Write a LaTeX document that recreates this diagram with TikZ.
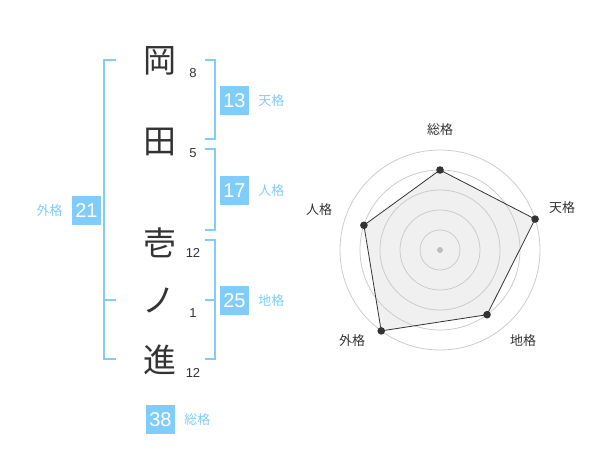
\documentclass[tikz,border=0pt]{standalone}
\usepackage{fontspec}
\setmainfont{Liberation Sans}
\newfontfamily\jpfont{Noto Sans CJK JP}
\usetikzlibrary{positioning}
\definecolor{kaku}{RGB}{128,204,250}
\definecolor{ink}{RGB}{51,51,51}
\definecolor{ring}{RGB}{204,204,204}
\definecolor{area}{RGB}{240,240,240}

\begin{document}
\begin{tikzpicture}[x=1pt,y=-1pt,
  kanji/.style={text=ink,font=\jpfont\fontsize{33}{33}\selectfont,inner sep=0pt},
  strokes/.style={text=ink,font=\fontsize{13}{13}\selectfont,inner sep=0pt},
  kakubox/.style={fill=kaku,text=white,minimum size=29pt,inner sep=0pt,font=\fontsize{20}{20}\selectfont},
  kakuname/.style={text=kaku,font=\jpfont\fontsize{13}{13}\selectfont,inner sep=0pt},
  bracket/.style={draw=kaku,line width=2pt},
  axisname/.style={text=ink,font=\jpfont\fontsize{13}{13}\selectfont,inner sep=0pt}]
\useasboundingbox (0,0) rectangle (600,470);
% name
\node[kanji] (oka) at (160,61) {岡};
\node[kanji] (ta) at (160,142) {田};
\node[kanji] (ichi) at (160,243) {壱};
\node[kanji] (no) at (159,300) {ノ};
\node[kanji] (susumu) at (160,360) {進};
\node[strokes] (n1) at (193,73) {8};
\node[strokes] (n2) at (193,153) {5};
\node[strokes] (n3) at (193,253) {12};
\node[strokes] (n4) at (193,313) {1};
\node[strokes] (n5) at (193,373) {12};
% brackets
\draw[bracket] (116,60) -- (104,60) -- (104,359) -- (116,359);
\draw[bracket] (104,300) -- (116,300);
\draw[bracket] (205,60) -- (215,60) -- (215,139) -- (205,139);
\draw[bracket] (205,149) -- (215,149) -- (215,230) -- (205,230);
\draw[bracket] (205,240) -- (215,240) -- (215,359) -- (205,359);
\draw[bracket] (205,300) -- (215,300);
% totals
\node[kakubox] (ten) at (234.5,100.5) {13};
\node[kakuname,right=9pt of ten] {天格};
\node[kakubox] (jin) at (234.5,190.5) {17};
\node[kakuname,right=9pt of jin] {人格};
\node[kakubox] (gai) at (86.5,210.5) {21};
\node[kakuname,left=9pt of gai] {外格};
\node[kakubox] (chi) at (234.5,300.5) {25};
\node[kakuname,right=9pt of chi] {地格};
\node[kakubox] (sou) at (160.5,419.5) {38};
\node[kakuname,right=9pt of sou] {総格};
% radar
\begin{scope}[shift={(440,250)},y=1pt]
  \fill[area] (90:80) -- (18:100) -- (-54:80) -- (-126:100) -- (162:80) -- cycle;
  \foreach \r in {20,40,...,100}
    \draw[ring,line width=0.8pt] (0,0) circle (\r);
  \draw[ink,line width=0.8pt] (90:80) -- (18:100) -- (-54:80) -- (-126:100) -- (162:80) -- cycle;
  \fill[ring!80!gray] (0,0) circle (3);
  \foreach \a/\r in {90/80,18/100,-54/80,-126/100,162/80}
    \fill[ink] (\a:\r) circle (3.8);
  \node[axisname] (s) at (0,120) {総格};
  \node[axisname] (t) at (122,42) {天格};
  \node[axisname] (c) at (83,-91) {地格};
  \node[axisname] (g) at (-88,-91) {外格};
  \node[axisname] (j) at (-121,40) {人格};
\end{scope}
\end{tikzpicture}
\end{document}
